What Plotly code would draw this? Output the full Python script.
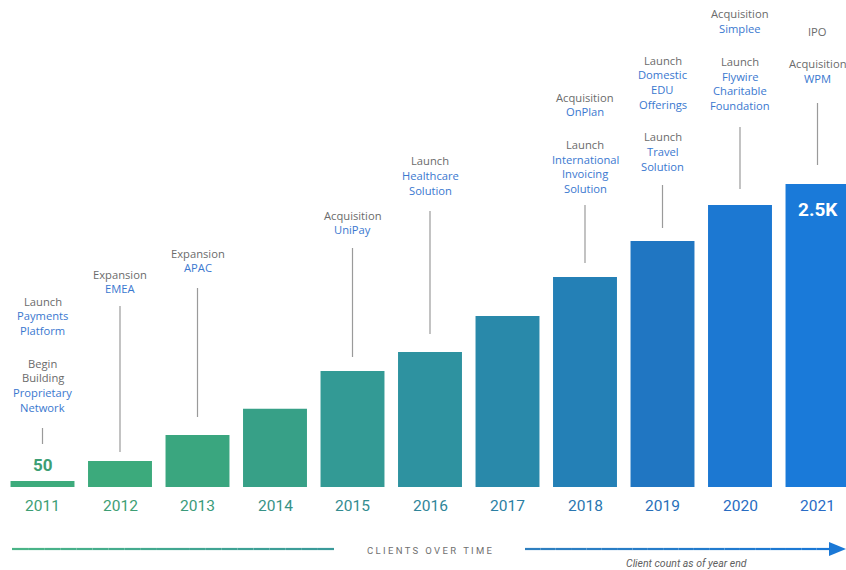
import plotly.graph_objects as go

years = ["2011", "2012", "2013", "2014", "2015", "2016", "2017", "2018", "2019", "2020", "2021"]
clients = [50, 215, 430, 645, 957, 1114, 1411, 1733, 2030, 2327, 2500]
bar_colors = ["#3dab7c", "#3caa7c", "#3aa67f", "#37a087", "#339a95", "#2e92a0", "#2989aa", "#2480b6", "#2076c2", "#1c78d2", "#1a7ad9"]
year_colors = ["#3d9e74", "#3d9e74", "#3a9a7a", "#379286", "#338c90", "#2f8599", "#2b7fa3", "#2a76b0", "#2970b9", "#286cc2", "#2a6cc6"]
value_labels = {"2011": "50", "2021": "2.5K"}

milestones = [
    (0, [("Launch", "g"), ("Payments", "b"), ("Platform", "b"), ("", "s"), ("Begin", "g"), ("Building", "g"), ("Proprietary", "b"), ("Network", "b")]),
    (1, [("Expansion", "g"), ("EMEA", "b")]),
    (2, [("Expansion", "g"), ("APAC", "b")]),
    (4, [("Acquisition", "g"), ("UniPay", "b")]),
    (5, [("Launch", "g"), ("Healthcare", "b"), ("Solution", "b")]),
    (7, [("Acquisition", "g"), ("OnPlan", "b"), ("", "s"), ("Launch", "g"), ("International", "b"), ("Invoicing", "b"), ("Solution", "b")]),
    (8, [("Launch", "g"), ("Domestic", "b"), ("EDU", "b"), ("Offerings", "b"), ("", "s"), ("Launch", "g"), ("Travel", "b"), ("Solution", "b")]),
    (9, [("Acquisition", "g"), ("Simplee", "b"), ("", "s"), ("Launch", "g"), ("Flywire", "b"), ("Charitable", "b"), ("Foundation", "b")]),
    (10, [("IPO", "g"), ("", "s"), ("Acquisition", "g"), ("WPM", "b")]),
]
milestone_top_px = [301, 274, 253, 215, 161, 97, 60, 14, 31]
connector_px = [(428, 444), (306, 452), (288, 417), (248, 357), (211, 334), (205, 263), (185, 228), (127, 189), (103, 165)]

W, H = 846, 570
PLOT_BOTTOM = 487
ymax = 2500 * PLOT_BOTTOM / 303.0

def py(px):
    return (PLOT_BOTTOM - px) / PLOT_BOTTOM

def pxx(px):
    return px / W

fig = go.Figure()
fig.add_trace(go.Bar(
    x=list(range(len(years))), y=clients, marker=dict(color=bar_colors, line=dict(width=0)),
    width=0.825, hovertext=years, hoverinfo="text+y",
))

annotations = []
shapes = []
GRAY = "#6b6b6b"
BLUE = "#3a78cf"
FONT = "Open Sans"

for (idx, lines), top, (l0, l1) in zip(milestones, milestone_top_px, connector_px):
    y = top
    for text, kind in lines:
        if kind == "s":
            y += 18
            continue
        annotations.append(dict(
            x=idx, xref="x", y=py(y), yref="paper", text=text, showarrow=False,
            font=dict(family=FONT, size=11.2, color=GRAY if kind == "g" else BLUE),
            xanchor="center", yanchor="middle"))
        y += 14.7
    shapes.append(dict(type="line", xref="x", yref="paper", x0=idx, x1=idx,
                       y0=py(l0), y1=py(l1), line=dict(color="#9a9a9a", width=1.2)))

for i, yr in enumerate(years):
    if yr in value_labels:
        if yr == "2021":
            annotations.append(dict(x=i, xref="x", y=clients[i], yref="y", yshift=-25, text="<b>%s</b>" % value_labels[yr],
                                    showarrow=False, font=dict(family="Roboto", size=19, color="white")))
        else:
            annotations.append(dict(x=i, xref="x", y=clients[i], yref="y", yshift=16, text="<b>%s</b>" % value_labels[yr],
                                    showarrow=False, font=dict(family="Roboto", size=17, color=year_colors[i])))
    annotations.append(dict(x=i, xref="x", y=py(506), yref="paper", text=yr, showarrow=False,
                            font=dict(family="Roboto", size=15.5, color=year_colors[i]),
                            xanchor="center", yanchor="middle"))

def grad_line(x0, x1, c0, c1, n=20, y=549):
    def h2r(h):
        return [int(h[k:k + 2], 16) for k in (1, 3, 5)]
    a, b = h2r(c0), h2r(c1)
    for k in range(n):
        t = k / (n - 1)
        c = "rgb(%d,%d,%d)" % tuple(round(a[j] + (b[j] - a[j]) * t) for j in range(3))
        xa = x0 + (x1 - x0) * k / n
        xb = x0 + (x1 - x0) * (k + 1) / n
        shapes.append(dict(type="line", xref="paper", yref="paper", x0=pxx(xa), x1=pxx(xb),
                           y0=py(y), y1=py(y), line=dict(color=c, width=2.2)))

grad_line(12, 334, "#4ab487", "#3a9a9a")
grad_line(525, 832, "#2e7fbf", "#1a78d6")
shapes.append(dict(type="path", xref="paper", yref="paper",
                   path="M %f,%f L %f,%f L %f,%f Z" % (pxx(829), py(542), pxx(846), py(549), pxx(829), py(556)),
                   fillcolor="#1a78d6", line=dict(width=0)))

annotations.append(dict(x=pxx(430), xref="paper", y=py(550), yref="paper", text="C L I E N T S&nbsp;&nbsp;&nbsp;O V E R&nbsp;&nbsp;&nbsp;T I M E",
                        showarrow=False, font=dict(family="Roboto", size=9.5, color="#707070"), xanchor="center", yanchor="middle"))
annotations.append(dict(x=pxx(686), xref="paper", y=py(563), yref="paper", text="<i>Client count as of year end</i>",
                        showarrow=False, font=dict(family="Roboto", size=10.5, color="#606060"), xanchor="center", yanchor="middle"))

fig.update_layout(
    width=W, height=H,
    margin=dict(l=0, r=0, t=0, b=H - PLOT_BOTTOM, pad=0),
    plot_bgcolor="white", paper_bgcolor="white",
    showlegend=False,
    xaxis=dict(range=[-42.5 / 77.5, (W - 42.5) / 77.5], showticklabels=False, showgrid=False,
               zeroline=False, showline=False, ticks=""),
    yaxis=dict(range=[0, ymax], visible=False, showgrid=False, zeroline=False),
    annotations=annotations, shapes=shapes,
)

fig.write_html("out.html", config={"displayModeBar": False},
               post_script="document.body.style.margin='0px';document.body.style.overflow='hidden';")
